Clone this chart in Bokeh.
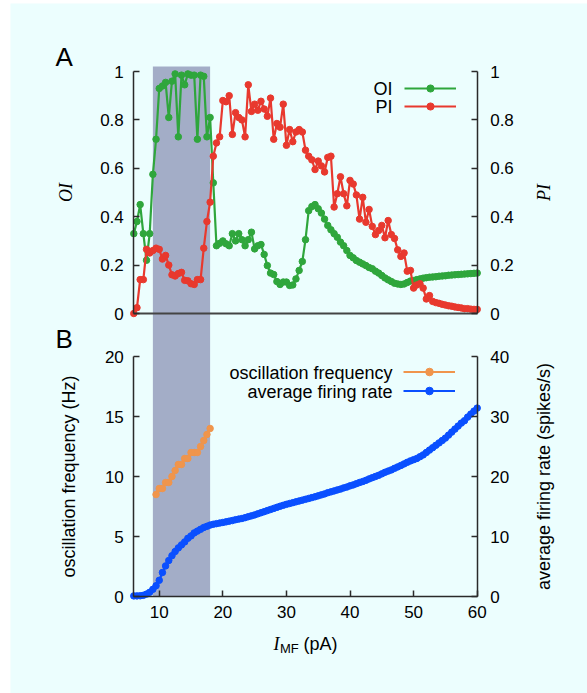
from bokeh.plotting import figure
from bokeh.models import (Range1d, LinearAxis, FixedTicker, BoxAnnotation, Label,
                          Legend, LegendItem, CustomJSTickFormatter)
from bokeh.layouts import column
from bokeh.embed import file_html
from bokeh.resources import INLINE

# ---------------- data ----------------
current_pA = [6.0, 6.5, 7.0, 7.5, 8.0, 8.5, 9.0, 9.5, 10.0, 10.5, 11.0, 11.5, 12.0, 12.5,
              13.0, 13.5, 14.0, 14.5, 15.0, 15.5, 16.0, 16.5, 17.0, 17.5, 18.0, 18.5, 19.0,
              19.5, 20.0, 20.5, 21.0, 21.5, 22.0, 22.5, 23.0, 23.5, 24.0, 24.5, 25.0, 25.5,
              26.0, 26.5, 27.0, 27.5, 28.0, 28.5, 29.0, 29.5, 30.0, 30.5, 31.0, 31.5, 32.0,
              32.5, 33.0, 33.5, 34.0, 34.5, 35.0, 35.5, 36.0, 36.5, 37.0, 37.5, 38.0, 38.5,
              39.0, 39.5, 40.0, 40.5, 41.0, 41.5, 42.0, 42.5, 43.0, 43.5, 44.0, 44.5, 45.0,
              45.5, 46.0, 46.5, 47.0, 47.5, 48.0, 48.5, 49.0, 49.5, 50.0, 50.5, 51.0, 51.5,
              52.0, 52.5, 53.0, 53.5, 54.0, 54.5, 55.0, 55.5, 56.0, 56.5, 57.0, 57.5, 58.0,
              58.5, 59.0, 59.5, 60.0]

oi_values = [0.33, 0.38, 0.45, 0.33, 0.22, 0.33, 0.575, 0.72, 0.93, 0.94, 0.955, 0.81, 0.96,
             0.99, 0.73, 0.985, 0.945, 0.99, 0.985, 0.985, 0.72, 0.985, 0.98, 0.73, 0.81,
             0.54, 0.28, 0.29, 0.30, 0.288, 0.28, 0.33, 0.30, 0.33, 0.305, 0.28, 0.305,
             0.336, 0.267, 0.28, 0.285, 0.244, 0.198, 0.167, 0.161, 0.132, 0.12, 0.13, 0.13,
             0.116, 0.118, 0.143, 0.178, 0.215, 0.305, 0.425, 0.442, 0.45, 0.433, 0.415,
             0.39, 0.364, 0.346, 0.33, 0.315, 0.295, 0.28, 0.26, 0.24, 0.23, 0.219, 0.212,
             0.205, 0.198, 0.19, 0.185, 0.175, 0.167, 0.157, 0.147, 0.139, 0.132, 0.125,
             0.122, 0.12, 0.122, 0.128, 0.134, 0.136, 0.14, 0.143, 0.146, 0.148, 0.15,
             0.151, 0.152, 0.154, 0.155, 0.156, 0.158, 0.159, 0.16, 0.161, 0.162, 0.163,
             0.164, 0.165, 0.166, 0.167]

pi_values = [0.0, 0.024, 0.14, 0.14, 0.265, 0.25, 0.26, 0.27, 0.265, 0.225, 0.24, 0.2, 0.16,
             0.155, 0.165, 0.17, 0.137, 0.135, 0.123, 0.12, 0.14, 0.14, 0.27, 0.38, 0.46,
             0.65, 0.705, 0.73, 0.88, 0.875, 0.90, 0.74, 0.83, 0.81, 0.80, 0.73, 0.945,
             0.835, 0.865, 0.84, 0.877, 0.845, 0.815, 0.89, 0.72, 0.785, 0.77, 0.865, 0.695,
             0.76, 0.71, 0.75, 0.76, 0.75, 0.675, 0.65, 0.635, 0.595, 0.63, 0.61, 0.585,
             0.645, 0.65, 0.44, 0.495, 0.565, 0.495, 0.445, 0.55, 0.535, 0.49, 0.39, 0.48,
             0.377, 0.43, 0.36, 0.326, 0.343, 0.364, 0.313, 0.384, 0.326, 0.31, 0.263,
             0.236, 0.25, 0.175, 0.178, 0.105, 0.118, 0.123, 0.105, 0.06, 0.074, 0.05,
             0.045, 0.042, 0.038, 0.035, 0.032, 0.03, 0.027, 0.025, 0.023, 0.02, 0.02,
             0.018, 0.017, 0.017]

firing_rate = [0.1, 0.1, 0.12, 0.2, 0.4, 0.7, 1.2, 1.8, 2.7, 4.0, 5.1, 6.0, 6.8, 7.5, 8.1,
               8.6, 9.1, 9.7, 10.1, 10.6, 10.9, 11.2, 11.5, 11.7, 11.9, 12.04, 12.14, 12.24,
               12.34, 12.44, 12.56, 12.66, 12.8, 12.9, 13.0, 13.14, 13.3, 13.44, 13.6, 13.78,
               13.96, 14.14, 14.32, 14.5, 14.68, 14.86, 15.04, 15.2, 15.36, 15.5, 15.64,
               15.78, 15.92, 16.06, 16.2, 16.34, 16.48, 16.62, 16.78, 16.94, 17.1, 17.3,
               17.44, 17.6, 17.76, 17.9, 18.1, 18.24, 18.44, 18.6, 18.8, 19.0, 19.16, 19.36,
               19.6, 19.8, 20.0, 20.2, 20.44, 20.7, 20.9, 21.1, 21.36, 21.6, 21.84, 22.1,
               22.36, 22.6, 22.8, 23.0, 23.3, 23.6, 24.0, 24.4, 24.8, 25.2, 25.6, 26.0, 26.4,
               26.9, 27.4, 27.9, 28.4, 28.9, 29.3, 29.9, 30.4, 30.9, 31.4]

osc_current_pA = [9.5, 10.0, 10.5, 11.0, 11.5, 12.0, 12.5, 13.0, 13.5, 14.0, 14.5, 15.0,
                  15.5, 16.0, 16.5, 17.0, 17.5, 18.0]
osc_frequency = [8.5, 9.0, 9.0, 9.5, 9.5, 10.0, 10.5, 11.0, 11.0, 11.5, 11.5, 12.0, 12.0,
                 12.0, 12.5, 13.0, 13.5, 14.0]

shade_range = (9.0, 18.0)
x_limits = (6, 60)
x_ticks = [10, 20, 30, 40, 50, 60]
index_limits = (0, 1)
index_ticks = [0, 0.2, 0.4, 0.6, 0.8, 1]
freq_limits = (0, 20)
freq_ticks = [0, 5, 10, 15, 20]
rate_limits = (0, 40)
rate_ticks = [0, 10, 20, 30, 40]

# ---------------- layout (pixels, canvas coordinates from top-left) ----------------
W, H = 577, 690
XL, XR = 123.3, 466.7            # canvas x of 6 pA and 60 pA
A_ONE, A_ZERO = 68.0, 310.0      # canvas y of index 1 and 0 (panel A)
B_TWENTY, B_ZERO = 353.0, 593.0  # canvas y of 20 Hz and 0 Hz (panel B)
SHADE_TOP_PX = 63.0

kx = (x_limits[1] - x_limits[0]) / (XR - XL)
x_lo = x_limits[0] - XL * kx
x_hi = x_limits[1] + (W - XR) * kx

ka = 1.0 / (A_ZERO - A_ONE)          # index units per px
kb = 20.0 / (B_ZERO - B_TWENTY)      # Hz per px
a_lo, a_hi = -(H - A_ZERO) * ka, A_ZERO * ka
b_lo, b_hi = -(H - B_ZERO) * kb, B_ZERO * kb


def xd(px):   # canvas x -> pA
    return x_limits[0] + (px - XL) * kx


def yb(py):   # canvas y -> default-range units
    return (B_ZERO - py) * kb


# ---------------- style ----------------
BG = "#ecfefe"
SHADE = "#a3adc7"
GREEN = "#2fa63c"
RED = "#e8392e"
ORANGE = "#f0954c"
BLUE = "#0a4fff"
AXC = "#2a2a2a"
SANS = "Liberation Sans"
SERIF = "Liberation Serif"
TICK_FS = "17px"
LAB_FS = "18px"

num_fmt = CustomJSTickFormatter(code="return String(Math.round(tick*10)/10)")


def style_axis(ax, tick_in=6):
    ax.major_tick_in = tick_in
    ax.major_tick_out = 0
    ax.minor_tick_line_color = None
    ax.axis_line_color = AXC
    ax.axis_line_width = 1.5
    ax.major_tick_line_color = AXC
    ax.major_tick_line_width = 1.5
    ax.major_label_text_font = SANS
    ax.major_label_text_font_size = TICK_FS
    ax.major_label_text_color = "black"
    ax.axis_label_text_font = SANS
    ax.axis_label_text_font_size = LAB_FS
    ax.axis_label_text_font_style = "normal"
    ax.axis_label_text_color = "black"


def add_text(p, px, py, text, **kw):
    opts = dict(text_font=SANS, text_font_size=LAB_FS, text_color="black",
                text_align="center", text_baseline="middle")
    opts.update(kw)
    p.add_layout(Label(x=xd(px), y=yb(py), text=text, **opts))


p = figure(width=W, height=H, x_range=Range1d(x_lo, x_hi), y_range=Range1d(b_lo, b_hi),
           output_backend="svg", toolbar_location=None,
           x_axis_location=None, y_axis_location=None,
           min_border=0, min_border_left=0, min_border_right=0, min_border_top=0,
           min_border_bottom=0,
           background_fill_color=BG, border_fill_color=BG, outline_line_color=None)
p.grid.visible = False
p.extra_y_ranges = {"idx": Range1d(a_lo, a_hi), "rate": Range1d(b_lo * 2, b_hi * 2)}

# shaded band through both panels
p.add_layout(BoxAnnotation(left=shade_range[0], right=shade_range[1], bottom=0,
                           top=yb(SHADE_TOP_PX), fill_color=SHADE, fill_alpha=1,
                           line_alpha=0, level="underlay"))

# ---------------- panel A ----------------
ax_oi = LinearAxis(y_range_name="idx", fixed_location=x_limits[0], bounds=index_limits,
                   ticker=FixedTicker(ticks=index_ticks), formatter=num_fmt, axis_label="OI")
style_axis(ax_oi)
ax_oi.axis_label_text_font = SERIF
ax_oi.axis_label_text_font_style = "italic"
ax_oi.major_label_standoff = 10
ax_oi.axis_label_standoff = 21
p.add_layout(ax_oi, "left")

ax_pi = LinearAxis(y_range_name="idx", fixed_location=x_limits[1], bounds=index_limits,
                   ticker=FixedTicker(ticks=index_ticks), formatter=num_fmt)
style_axis(ax_pi)
ax_pi.major_label_standoff = 13
p.add_layout(ax_pi, "right")

ax_a_bottom = LinearAxis(y_range_name="idx", fixed_location=0, bounds=x_limits,
                         ticker=FixedTicker(ticks=[]))
style_axis(ax_a_bottom, tick_in=0)
ax_a_bottom.axis_line_color = "#444444"
ax_a_bottom.axis_line_width = 2
p.add_layout(ax_a_bottom, "below")

oi_line = p.line(current_pA, oi_values, y_range_name="idx", line_color=GREEN, line_width=2.2)
oi_pts = p.scatter(current_pA, oi_values, y_range_name="idx", size=6.5, color=GREEN)
pi_line = p.line(current_pA, pi_values, y_range_name="idx", line_color=RED, line_width=2.2)
pi_pts = p.scatter(current_pA, pi_values, y_range_name="idx", size=6.5, color=RED)

leg_a = Legend(items=[LegendItem(label=" ", renderers=[oi_line, oi_pts]),
                      LegendItem(label=" ", renderers=[pi_line, pi_pts])],
               location=(394, H - 112), glyph_width=52, glyph_height=18, label_height=18,
               label_width=1, label_standoff=0, spacing=0, padding=0, margin=0,
               border_line_alpha=0, background_fill_alpha=0, label_text_font_size="2px")
p.add_layout(leg_a)

add_text(p, 382, 85, "OI", text_align="right")
add_text(p, 382, 103, "PI", text_align="right")
add_text(p, 45, 53, "A", text_align="left", text_font_size="26px")
add_text(p, 533, 189, "PI", angle=90, angle_units="deg", text_font=SERIF,
         text_font_style="italic")

# ---------------- panel B ----------------
ax_x = LinearAxis(fixed_location=0, bounds=x_limits, ticker=FixedTicker(ticks=x_ticks))
style_axis(ax_x, tick_in=6)
ax_x.major_label_standoff = 9
p.add_layout(ax_x, "below")

ax_f = LinearAxis(fixed_location=x_limits[0], bounds=freq_limits,
                  ticker=FixedTicker(ticks=freq_ticks), axis_label="oscillation frequency (Hz)")
style_axis(ax_f)
ax_f.major_label_standoff = 10
ax_f.axis_label_standoff = 23
p.add_layout(ax_f, "left")

ax_r = LinearAxis(y_range_name="rate", fixed_location=x_limits[1], bounds=rate_limits,
                  ticker=FixedTicker(ticks=rate_ticks))
style_axis(ax_r)
ax_r.major_label_standoff = 13
p.add_layout(ax_r, "right")

osc_line = p.line(osc_current_pA, osc_frequency, line_color=ORANGE, line_width=2.2)
osc_pts = p.scatter(osc_current_pA, osc_frequency, size=6.5, color=ORANGE)
fr_line = p.line(current_pA, firing_rate, y_range_name="rate", line_color=BLUE, line_width=2.2)
fr_pts = p.scatter(current_pA, firing_rate, y_range_name="rate", size=6.5, color=BLUE)

leg_b = Legend(items=[LegendItem(label=" ", renderers=[osc_line, osc_pts]),
                      LegendItem(label=" ", renderers=[fr_line, fr_pts])],
               location=(393, H - 397), glyph_width=52, glyph_height=19, label_height=19,
               label_width=1, label_standoff=0, spacing=0, padding=0, margin=0,
               border_line_alpha=0, background_fill_alpha=0, label_text_font_size="2px")
p.add_layout(leg_b)

add_text(p, 382, 369, "oscillation frequency", text_align="right")
add_text(p, 382, 388, "average firing rate", text_align="right")
add_text(p, 45, 335, "B", text_align="left", text_font_size="26px")
add_text(p, 533, 473, "average firing rate (spikes/s)", angle=90, angle_units="deg")
add_text(p, 269, 640, "I", text_align="right", text_font=SERIF, text_font_style="italic")
add_text(p, 269.5, 645, "MF", text_align="left", text_font_size="13px")
add_text(p, 293, 640, "(pA)", text_align="left")

layout = column(p, spacing=0, margin=(3, 0, 0, 10))

open("out.html", "w").write(file_html(layout, INLINE))
